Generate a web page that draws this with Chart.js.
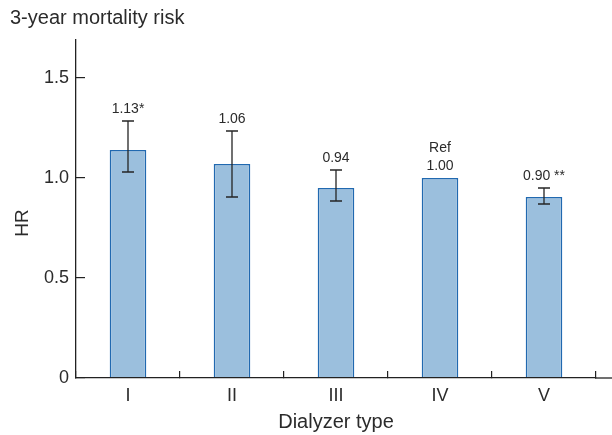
<!DOCTYPE html>
<html>
<head>
<meta charset="utf-8">
<script src="https://cdn.jsdelivr.net/npm/chart.js@4/dist/chart.umd.min.js"></script>
<style>
  html, body { margin: 0; padding: 0; background: #ffffff; }
  #wrap { width: 612px; height: 435px; position: relative; }
</style>
</head>
<body>
<div id="wrap"><canvas id="c" width="612" height="435"></canvas></div>
<script>
// ---- data ----
const categories = ['I', 'II', 'III', 'IV', 'V'];
const hrValues = [1.14, 1.07, 0.95, 1.00, 0.905];
const ciLower = [1.03, 0.905, 0.885, null, 0.87];
const ciUpper = [1.285, 1.235, 1.04, null, 0.95];
const valueLabels = [['1.13*'], ['1.06'], ['0.94'], ['Ref', '1.00'], ['0.90 **']];
const yTicks = [0, 0.5, 1.0, 1.5];
const yTickLabels = ['0', '0.5', '1.0', '1.5'];
const yMin = 0;
const yMax = 1.69;
const chartTitle = '3-year mortality risk';
const xTitle = 'Dialyzer type';
const yTitle = 'HR';

const FONT = "'Liberation Sans', Arial, Helvetica, sans-serif";
const TEXT = '#2b2b2b';
const AXIS = '#222222';

const errorBarPlugin = {
  id: 'errorBars',
  afterDatasetsDraw(chart) {
    const ctx = chart.ctx;
    const meta = chart.getDatasetMeta(0);
    const ys = chart.scales.y;
    ctx.save();
    ctx.strokeStyle = '#262626';
    ctx.lineWidth = 1.3;
    meta.data.forEach((bar, i) => {
      if (ciLower[i] == null || ciUpper[i] == null) return;
      const x = bar.x;
      const yh = ys.getPixelForValue(ciUpper[i]);
      const yl = ys.getPixelForValue(ciLower[i]);
      const cap = 6;
      ctx.beginPath();
      ctx.moveTo(x, yh); ctx.lineTo(x, yl);
      ctx.moveTo(x - cap, yh); ctx.lineTo(x + cap, yh);
      ctx.moveTo(x - cap, yl); ctx.lineTo(x + cap, yl);
      ctx.stroke();
    });
    // value labels
    ctx.fillStyle = TEXT;
    ctx.font = '14px ' + FONT;
    ctx.textAlign = 'center';
    ctx.textBaseline = 'alphabetic';
    meta.data.forEach((bar, i) => {
      const topVal = ciUpper[i] != null ? Math.max(ciUpper[i], hrValues[i]) : hrValues[i];
      const yTop = ys.getPixelForValue(topVal) - 8;
      const lines = valueLabels[i];
      lines.forEach((t, k) => {
        ctx.fillText(t, bar.x, yTop - (lines.length - 1 - k) * 18.3);
      });
    });
    ctx.restore();
  },
  afterDraw(chart) {
    const ctx = chart.ctx;
    const xs = chart.scales.x;
    const ca = chart.chartArea;
    ctx.save();
    // extend x axis line to the right edge
    ctx.strokeStyle = AXIS;
    ctx.lineWidth = 1.3;
    ctx.beginPath();
    ctx.moveTo(ca.right - 1, xs.top);
    ctx.lineTo(chart.width, xs.top);
    ctx.stroke();
    // y-axis title, placed slightly below the plot's vertical centre
    ctx.fillStyle = TEXT;
    ctx.font = '19px ' + FONT;
    ctx.textAlign = 'center';
    ctx.textBaseline = 'middle';
    ctx.translate(23, (ca.top + ca.bottom) / 2 + 14);
    ctx.rotate(-Math.PI / 2);
    ctx.fillText(yTitle, 0, 0);
    ctx.restore();
  }
};

new Chart(document.getElementById('c'), {
  type: 'bar',
  data: {
    labels: categories,
    datasets: [{
      data: hrValues,
      backgroundColor: '#9bbfdd',
      borderColor: '#2169b0',
      borderWidth: 1.5,
      borderSkipped: 'start',
      categoryPercentage: 1.0,
      barPercentage: 0.352
    }]
  },
  options: {
    responsive: false,
    animation: false,
    devicePixelRatio: 1,
    layout: { padding: { left: 10, right: 16, top: 0, bottom: 0 } },
    plugins: {
      legend: { display: false },
      tooltip: { enabled: false },
      title: {
        display: true,
        text: chartTitle,
        align: 'start',
        color: TEXT,
        font: { family: FONT, size: 20, weight: 'normal' },
        padding: { top: 6, bottom: 10 }
      }
    },
    scales: {
      x: {
        type: 'category',
        offset: true,
        grid: {
          offset: true,
          drawOnChartArea: false,
          drawTicks: true,
          tickLength: -7,
          color: AXIS,
          lineWidth: 1.2
        },
        border: { display: true, color: AXIS, width: 1.3, z: 1 },
        ticks: {
          color: TEXT,
          font: { family: FONT, size: 18 },
          padding: 14,
          maxRotation: 0,
          autoSkip: false
        },
        title: {
          display: true,
          text: xTitle,
          color: TEXT,
          font: { family: FONT, size: 20 },
          padding: { top: 0, bottom: 1 }
        },
        afterFit(s) { s.height = 57; }
      },
      y: {
        min: yMin,
        max: yMax,
        afterBuildTicks(s) { s.ticks = yTicks.map(v => ({ value: v })); },
        grid: {
          drawOnChartArea: false,
          drawTicks: true,
          tickLength: -9,
          color: AXIS,
          lineWidth: 1.2
        },
        border: { display: true, color: AXIS, width: 1.3, z: 1 },
        ticks: {
          color: TEXT,
          font: { family: FONT, size: 18 },
          padding: 16,
          callback(v) {
            const idx = yTicks.indexOf(v);
            return idx >= 0 ? yTickLabels[idx] : '';
          }
        },
        title: { display: false },
        afterFit(s) { s.width = 66; }
      }
    }
  },
  plugins: [errorBarPlugin]
});
</script>
</body>
</html>
